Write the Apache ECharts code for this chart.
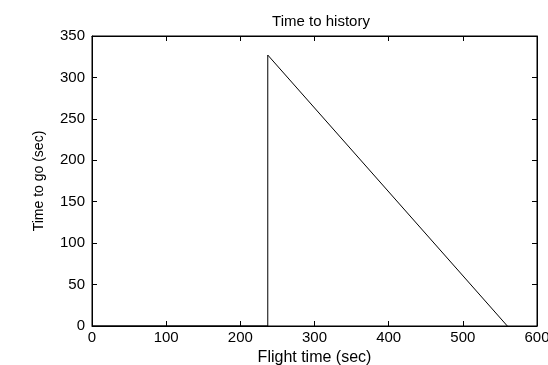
<!DOCTYPE html>
<html>
<head>
<meta charset="utf-8">
<script src="https://cdn.jsdelivr.net/npm/echarts@6/dist/echarts.min.js"></script>
<style>
  html, body { margin: 0; padding: 0; background: #fff; }
  #chart { width: 548px; height: 365px; }
</style>
</head>
<body>
<div id="chart"></div>
<script>
// Time-to-go profile: zero until ignition, then counts down to zero.
var flightTime = [0, 237, 237, 560];
var timeToGo = [0, 0, 327, 0];
var xTicks = [0, 600, 100];
var yTicks = [0, 350, 50];

var points = flightTime.map(function (t, i) { return [t, timeToGo[i]]; });
var font = 'Liberation Sans, Arial, sans-serif';

function frameAxis(extra) {
  var base = {
    type: 'value',
    axisLine: { show: true, onZero: false, lineStyle: { color: '#000', width: 1 } },
    axisTick: { show: true, inside: true, length: 5, lineStyle: { color: '#000', width: 1 } },
    splitLine: { show: false }
  };
  for (var k in extra) base[k] = extra[k];
  return base;
}

var chart = echarts.init(document.getElementById('chart'));
chart.setOption({
  backgroundColor: '#fff',
  animation: false,
  title: {
    text: 'Time to history',
    left: 316, top: 9, textAlign: 'center',
    textStyle: { fontFamily: font, fontSize: 15, fontWeight: 'normal', color: '#000' }
  },
  grid: {
    left: 92, right: 11, top: 36, bottom: 39,
    outerBoundsMode: 'none',
    containLabel: false,
    show: true, borderColor: '#000', borderWidth: 1, backgroundColor: 'transparent'
  },
  xAxis: [
    frameAxis({
      min: xTicks[0], max: xTicks[1], interval: xTicks[2], position: 'bottom',
      name: 'Flight time (sec)', nameLocation: 'middle', nameGap: 21,
      nameTextStyle: { fontFamily: font, fontSize: 16, color: '#000' },
      axisLabel: { fontFamily: font, fontSize: 15, color: '#000', margin: 4 }
    }),
    frameAxis({
      min: xTicks[0], max: xTicks[1], interval: xTicks[2], position: 'top',
      axisLabel: { show: false }
    })
  ],
  yAxis: [
    frameAxis({
      min: yTicks[0], max: yTicks[1], interval: yTicks[2], position: 'left',
      name: 'Time to go (sec)', nameLocation: 'middle', nameGap: 46,
      nameTextStyle: { fontFamily: font, fontSize: 14, color: '#000' },
      axisLabel: { fontFamily: font, fontSize: 15, color: '#000', margin: 7 }
    }),
    frameAxis({
      min: yTicks[0], max: yTicks[1], interval: yTicks[2], position: 'right',
      axisLabel: { show: false }
    })
  ],
  series: [{
    type: 'line',
    data: points,
    xAxisIndex: 0,
    yAxisIndex: 0,
    symbol: 'none',
    lineStyle: { color: '#000', width: 1 }
  }, {
    type: 'line',
    data: [],
    xAxisIndex: 1,
    yAxisIndex: 1
  }]
});
</script>
</body>
</html>
